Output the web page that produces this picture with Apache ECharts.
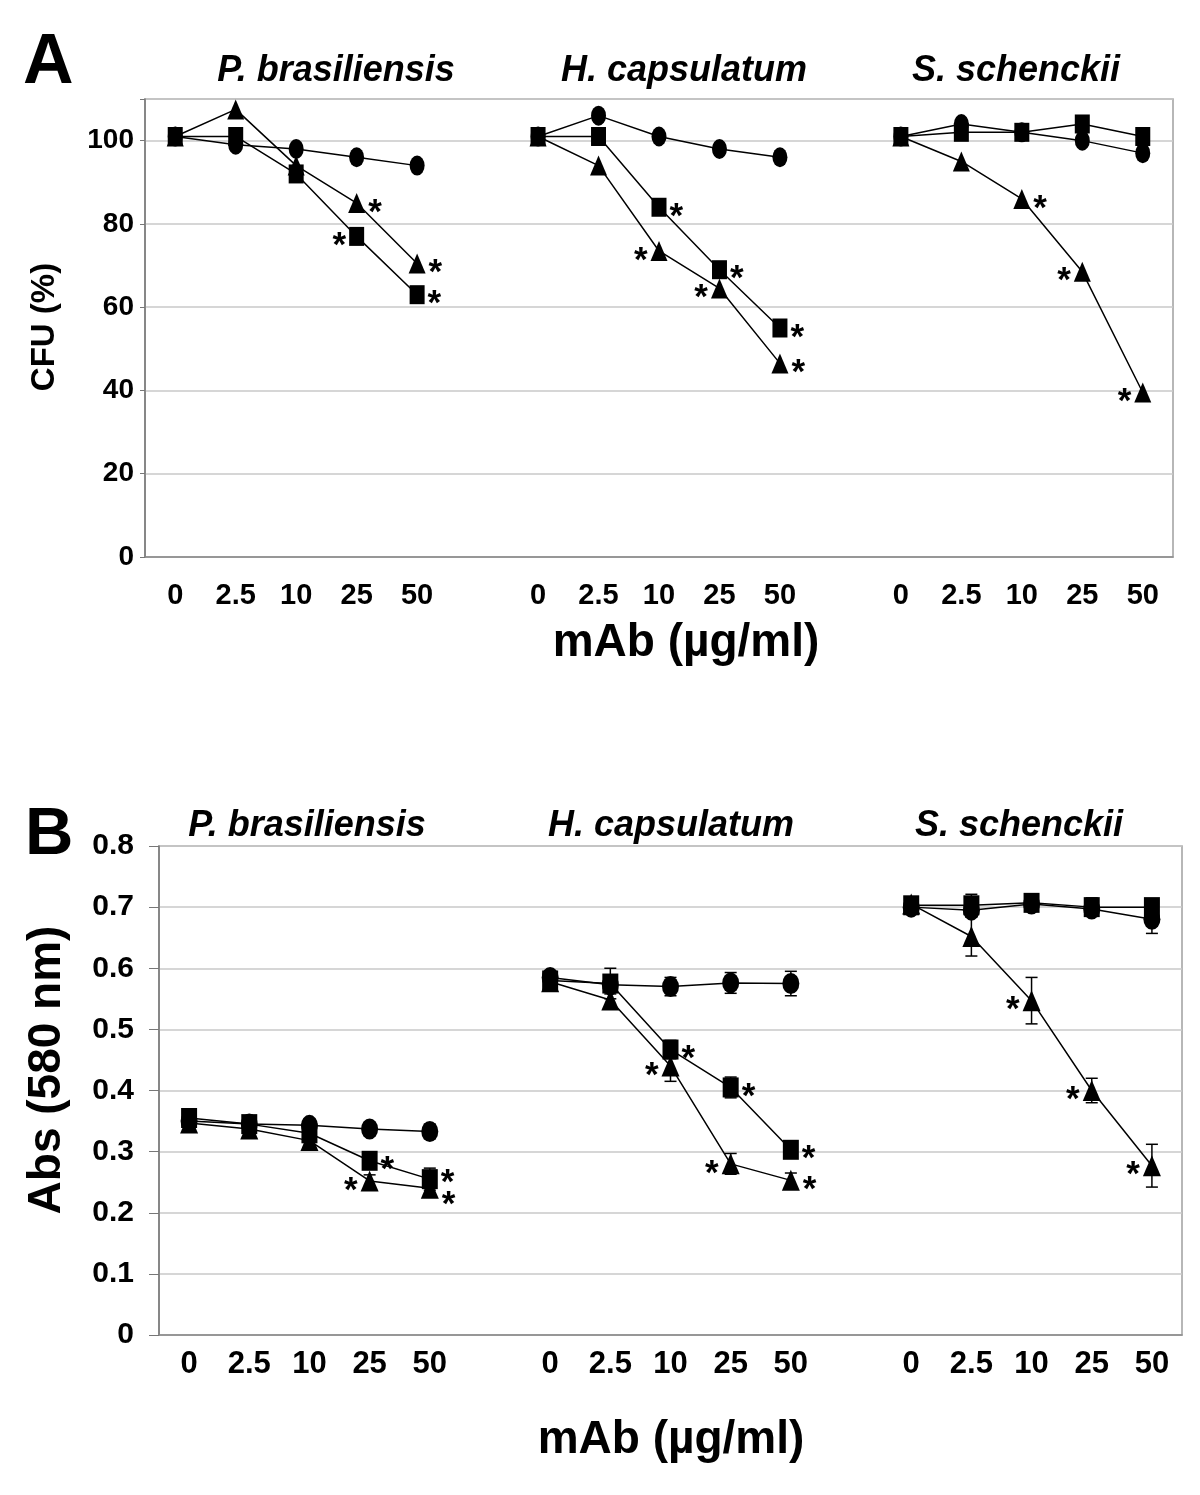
<!DOCTYPE html>
<html>
<head>
<meta charset="utf-8">
<script src="https://cdn.jsdelivr.net/npm/echarts@6/dist/echarts.min.js"></script>
<style>
html,body{margin:0;padding:0;background:#fff;}
#chart{width:1200px;height:1495px;}
</style>
</head>
<body>
<div id="chart"></div>
<script>
// ---------- DATA ----------
const doses = ['0', '2.5', '10', '25', '50'];
const species = ['P. brasiliensis', 'H. capsulatum', 'S. schenckii'];

// Panel A: CFU (%)
const cfuCircle_Pb   = [101, 99, 98, 96, 94];
const cfuTriangle_Pb = [101, 107.5, 94, 85, 70.5];
const cfuSquare_Pb   = [101, 101, 92, 77, 63];
const cfuCircle_Hc   = [101, 106, 101, 98, 96];
const cfuTriangle_Hc = [101, 94, 73.5, 64.5, 46.5];
const cfuSquare_Hc   = [101, 101, 84, 69, 55];
const cfuCircle_Ss   = [101, 104, 102, 100, 97];
const cfuTriangle_Ss = [101, 95, 86, 68.5, 39.5];
const cfuSquare_Ss   = [101, 102, 102, 104, 101];

// Panel A significance marks (R = star right, L = star left; U/D nudge up/down)
const starA_Triangle_Pb = ['', '', '', 'R', 'R'];
const starA_Square_Pb   = ['', '', '', 'L', 'R'];
const starA_Triangle_Hc = ['', '', 'L', 'L', 'R'];
const starA_Square_Hc   = ['', '', 'R', 'R', 'R'];
const starA_Triangle_Ss = ['', '', 'R', 'L', 'L'];

// Panel B: Abs (580 nm)
const absCircle_Pb   = [0.350, 0.345, 0.343, 0.337, 0.333];
const absTriangle_Pb = [0.347, 0.337, 0.318, 0.252, 0.240];
const absSquare_Pb   = [0.355, 0.345, 0.330, 0.285, 0.255];
const absCircle_Hc   = [0.585, 0.573, 0.570, 0.576, 0.575];
const absTriangle_Hc = [0.578, 0.548, 0.440, 0.280, 0.253];
const absSquare_Hc   = [0.580, 0.575, 0.467, 0.405, 0.303];
const absCircle_Ss   = [0.700, 0.695, 0.705, 0.697, 0.680];
const absTriangle_Ss = [0.705, 0.652, 0.547, 0.400, 0.277];
const absSquare_Ss   = [0.703, 0.703, 0.707, 0.700, 0.700];

// Panel B error (± SD)
const errCircle_Pb   = [0.008, 0.008, 0.010, 0.010, 0.012];
const errTriangle_Pb = [0.008, 0.008, 0.008, 0.010, 0.012];
const errSquare_Pb   = [0.010, 0.010, 0.015, 0.012, 0.018];
const errCircle_Hc   = [0.008, 0.010, 0.015, 0.017, 0.020];
const errTriangle_Hc = [0.008, 0.010, 0.025, 0.017, 0.012];
const errSquare_Hc   = [0.008, 0.025, 0.015, 0.017, 0.010];
const errCircle_Ss   = [0.010, 0.010, 0.010, 0.012, 0.023];
const errTriangle_Ss = [0.010, 0.032, 0.038, 0.020, 0.035];
const errSquare_Ss   = [0.012, 0.018, 0.010, 0.015, 0.012];

// Panel B significance marks
const starB_Triangle_Pb = ['', '', '', 'L', 'RD'];
const starB_Square_Pb   = ['', '', '', 'R', 'RU'];
const starB_Triangle_Hc = ['', '', 'L', 'L', 'R'];
const starB_Square_Hc   = ['', '', 'R', 'R', 'R'];
const starB_Triangle_Ss = ['', '', 'L', 'L', 'L'];

const yTicksA = [0, 20, 40, 60, 80, 100];
const yTicksB = [0, 0.1, 0.2, 0.3, 0.4, 0.5, 0.6, 0.7, 0.8];

// ---------- BUILD ----------
const categories = [...doses, '', ...doses, '', ...doses];
const FONT = '"Liberation Sans", Arial, Helvetica, sans-serif';
const NONE = ['', '', '', '', ''];

const shapes = {
  A: { circle: { symbol: 'circle', size: [15, 20] }, triangle: { symbol: 'triangle', size: [17, 20] }, square: { symbol: 'rect', size: [15, 19] } },
  B: { circle: { symbol: 'circle', size: [17, 21] }, triangle: { symbol: 'triangle', size: [18, 21] }, square: { symbol: 'rect', size: [16, 20] } }
};

function buildData(group, vals, stars) {
  const out = categories.map(() => null);
  vals.forEach((v, i) => {
    const s = stars[i];
    const item = { value: v };
    if (s) {
      let dy = 10;
      if (s.indexOf('U') >= 0) dy -= 6;
      if (s.indexOf('D') >= 0) dy += 7;
      item.label = {
        show: true, formatter: '*', position: s[0] === 'R' ? 'right' : 'left',
        distance: 3, offset: [0, dy], color: '#000',
        fontSize: 35, fontWeight: 'bold', fontFamily: FONT
      };
    }
    out[group * 6 + i] = item;
  });
  return out;
}

function lineSeries(panel, group, shape, vals, stars) {
  const sh = shapes[panel][shape];
  const idx = panel === 'A' ? 0 : 1;
  return {
    type: 'line', xAxisIndex: idx, yAxisIndex: idx,
    data: buildData(group, vals, stars || NONE),
    symbol: sh.symbol, symbolSize: sh.size, showSymbol: true,
    itemStyle: { color: '#000' },
    lineStyle: { color: '#000', width: 1.5 },
    label: { show: false },
    z: shape === 'square' ? 4 : (shape === 'triangle' ? 3 : 2),
    silent: true
  };
}

function errSeries(group, vals, errs) {
  return {
    type: 'custom', xAxisIndex: 1, yAxisIndex: 1, z: 1, silent: true,
    data: vals.map((v, i) => [group * 6 + i, v - errs[i], v + errs[i]]),
    renderItem: function (params, api) {
      const lo = api.coord([api.value(0), api.value(1)]);
      const hi = api.coord([api.value(0), api.value(2)]);
      const x = lo[0], w = 6;
      const st = { stroke: '#000', lineWidth: 1.5 };
      return {
        type: 'group', children: [
          { type: 'line', shape: { x1: x, y1: lo[1], x2: x, y2: hi[1] }, style: st },
          { type: 'line', shape: { x1: x - w, y1: lo[1], x2: x + w, y2: lo[1] }, style: st },
          { type: 'line', shape: { x1: x - w, y1: hi[1], x2: x + w, y2: hi[1] }, style: st }
        ]
      };
    }
  };
}

const series = [
  // Panel A
  lineSeries('A', 0, 'circle', cfuCircle_Pb),
  lineSeries('A', 0, 'triangle', cfuTriangle_Pb, starA_Triangle_Pb),
  lineSeries('A', 0, 'square', cfuSquare_Pb, starA_Square_Pb),
  lineSeries('A', 1, 'circle', cfuCircle_Hc),
  lineSeries('A', 1, 'triangle', cfuTriangle_Hc, starA_Triangle_Hc),
  lineSeries('A', 1, 'square', cfuSquare_Hc, starA_Square_Hc),
  lineSeries('A', 2, 'circle', cfuCircle_Ss),
  lineSeries('A', 2, 'triangle', cfuTriangle_Ss, starA_Triangle_Ss),
  lineSeries('A', 2, 'square', cfuSquare_Ss),
  // Panel B error bars
  errSeries(0, absCircle_Pb, errCircle_Pb),
  errSeries(0, absTriangle_Pb, errTriangle_Pb),
  errSeries(0, absSquare_Pb, errSquare_Pb),
  errSeries(1, absCircle_Hc, errCircle_Hc),
  errSeries(1, absTriangle_Hc, errTriangle_Hc),
  errSeries(1, absSquare_Hc, errSquare_Hc),
  errSeries(2, absCircle_Ss, errCircle_Ss),
  errSeries(2, absTriangle_Ss, errTriangle_Ss),
  errSeries(2, absSquare_Ss, errSquare_Ss),
  // Panel B
  lineSeries('B', 0, 'circle', absCircle_Pb),
  lineSeries('B', 0, 'triangle', absTriangle_Pb, starB_Triangle_Pb),
  lineSeries('B', 0, 'square', absSquare_Pb, starB_Square_Pb),
  lineSeries('B', 1, 'circle', absCircle_Hc),
  lineSeries('B', 1, 'triangle', absTriangle_Hc, starB_Triangle_Hc),
  lineSeries('B', 1, 'square', absSquare_Hc, starB_Square_Hc),
  lineSeries('B', 2, 'circle', absCircle_Ss),
  lineSeries('B', 2, 'triangle', absTriangle_Ss, starB_Triangle_Ss),
  lineSeries('B', 2, 'square', absSquare_Ss)
];

function txt(x, y, text, font, opts, align) {
  return Object.assign({
    type: 'text', x: x, y: y, silent: true,
    style: { text: text, font: font, fill: '#000', align: align || 'center', verticalAlign: 'middle' }
  }, opts || {});
}

const titleFont = 'italic bold 36px ' + FONT;
const graphics = [
  txt(23, 64, 'A', 'bold 70px ' + FONT, null, 'left'),
  txt(336, 71, species[0], titleFont),
  txt(684, 71, species[1], titleFont),
  txt(1016, 71, species[2], titleFont),
  txt(45, 327, 'CFU (%)', 'bold 33px ' + FONT, { rotation: Math.PI / 2 }),
  txt(686, 643, 'mAb (µg/ml)', 'bold 46px ' + FONT),
  txt(25, 836, 'B', 'bold 67px ' + FONT, null, 'left'),
  txt(307, 826, species[0], titleFont),
  txt(671, 826, species[1], titleFont),
  txt(1019, 826, species[2], titleFont),
  txt(47, 1070, 'Abs (580 nm)', 'bold 46px ' + FONT, { rotation: Math.PI / 2 }),
  txt(671, 1440, 'mAb (µg/ml)', 'bold 46px ' + FONT)
];

function xAxisCfg(gridIndex, fontSize, margin) {
  return {
    type: 'category', gridIndex: gridIndex, data: categories, boundaryGap: true,
    axisLine: { show: true, lineStyle: { color: '#888', width: 1.5 } },
    axisTick: { show: false },
    axisLabel: { interval: 0, color: '#000', fontSize: fontSize, fontWeight: 'bold', fontFamily: FONT, margin: margin },
    splitLine: { show: false }
  };
}

const option = {
  animation: false,
  backgroundColor: '#fff',
  grid: [
    { left: 145, right: 27, top: 99, height: 458, show: true, borderColor: '#a0a0a0', borderWidth: 1.5, backgroundColor: 'transparent' },
    { left: 159, right: 18, top: 846, height: 489, show: true, borderColor: '#a0a0a0', borderWidth: 1.5, backgroundColor: 'transparent' }
  ],
  xAxis: [
    xAxisCfg(0, 29, 24),
    xAxisCfg(1, 31, 14)
  ],
  yAxis: [
    {
      type: 'value', gridIndex: 0, min: 0, max: 110, interval: 20,
      axisLine: { show: true, lineStyle: { color: '#777', width: 1.5 } },
      axisTick: { show: true, length: 5, lineStyle: { color: '#777' } },
      axisLabel: {
        color: '#000', fontSize: 28, fontWeight: 'bold', fontFamily: FONT, margin: 11,
        formatter: function (v) { return yTicksA.indexOf(v) >= 0 ? String(v) : ''; }
      },
      splitLine: { show: true, lineStyle: { color: '#c8c8c8', width: 1.5 } }
    },
    {
      type: 'value', gridIndex: 1, min: 0, max: 0.8, interval: 0.1,
      axisLine: { show: true, lineStyle: { color: '#777', width: 1.5 } },
      axisTick: { show: true, length: 10, lineStyle: { color: '#777' } },
      axisLabel: {
        color: '#000', fontSize: 30, fontWeight: 'bold', fontFamily: FONT, margin: 25,
        formatter: function (v) {
          const r = Math.round(v * 10) / 10;
          return yTicksB.indexOf(r) >= 0 ? (r === 0 ? '0' : r.toFixed(1)) : '';
        }
      },
      splitLine: { show: true, lineStyle: { color: '#c8c8c8', width: 1.5 } }
    }
  ],
  graphic: graphics,
  series: series
};

const chart = echarts.init(document.getElementById('chart'), null, { renderer: 'canvas' });
chart.setOption(option);
</script>
</body>
</html>
